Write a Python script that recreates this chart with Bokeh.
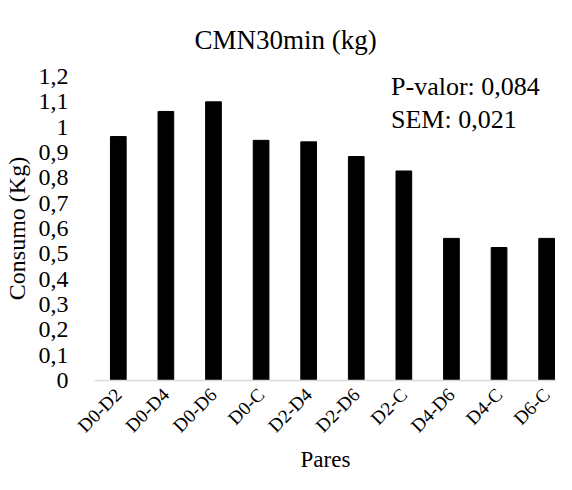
from bokeh.plotting import figure
from bokeh.models import ColumnDataSource, FixedTicker, CustomJSTickFormatter, Label, Title, Range1d
from bokeh.embed import file_html
from bokeh.resources import INLINE
import math

pares = ["D0-D2", "D0-D4", "D0-D6", "D0-C", "D2-D4", "D2-D6", "D2-C", "D4-D6", "D4-C", "D6-C"]
consumo = [0.963, 1.062, 1.100, 0.948, 0.942, 0.884, 0.827, 0.561, 0.525, 0.561]
y_ticks = [0, 0.1, 0.2, 0.3, 0.4, 0.5, 0.6, 0.7, 0.8, 0.9, 1.0, 1.1, 1.2]
title_text = "CMN30min (kg)"
stats_text = ["P-valor: 0,084", "SEM: 0,021"]
stats_y = [1.161, 1.029]

FONT = "Liberation Serif"

xpos = [i + 0.5 for i in range(len(pares))]
source = ColumnDataSource(data=dict(x=xpos, pares=pares, consumo=consumo))

p = figure(x_range=Range1d(0, 9.707), y_range=Range1d(0, 1.2), width=556, height=474,
           output_backend="svg", toolbar_location=None,
           min_border_left=92, min_border_right=0, min_border_top=75, min_border_bottom=87)

p.vbar(x="x", top="consumo", width=0.33, source=source, color="black")

p.add_layout(Title(text=title_text, align="left", offset=100, standoff=44,
                   text_font=FONT, text_font_size="27px",
                   text_font_style="normal", text_color="#000000"), "above")

p.xgrid.grid_line_color = None
p.ygrid.grid_line_color = None
p.outline_line_color = None
p.background_fill_color = "white"
p.border_fill_color = "white"

p.yaxis.ticker = FixedTicker(ticks=y_ticks)
p.yaxis.formatter = CustomJSTickFormatter(code="var s = (Math.round(tick*10)/10).toString(); return s.replace('.', ',');")
p.yaxis.axis_line_color = None
p.yaxis.major_tick_line_color = None
p.yaxis.minor_tick_line_color = None
p.yaxis.major_label_text_font = FONT
p.yaxis.major_label_text_font_size = "24px"
p.yaxis.major_label_text_color = "black"
p.yaxis.major_label_standoff = 20
p.yaxis.axis_label = "Consumo (Kg)"
p.yaxis.axis_label_text_font = FONT
p.yaxis.axis_label_text_font_size = "24px"
p.yaxis.axis_label_text_font_style = "normal"
p.yaxis.axis_label_text_color = "black"
p.yaxis.axis_label_standoff = 6

p.xaxis.ticker = FixedTicker(ticks=xpos)
p.xaxis.major_label_overrides = {x: name for x, name in zip(xpos, pares)}
p.xaxis.axis_line_color = "#d9d9d9"
p.xaxis.axis_line_width = 1.5
p.xaxis.major_tick_line_color = None
p.xaxis.minor_tick_line_color = None
p.xaxis.major_label_orientation = math.pi / 4
p.xaxis.major_label_text_font = FONT
p.xaxis.major_label_text_font_size = "19px"
p.xaxis.major_label_text_color = "black"
p.xaxis.major_label_standoff = 5
p.xaxis.axis_label = "Pares"
p.xaxis.axis_label_text_font = FONT
p.xaxis.axis_label_text_font_size = "23px"
p.xaxis.axis_label_text_font_style = "normal"
p.xaxis.axis_label_text_color = "black"
p.xaxis.axis_label_standoff = 0

for txt, yv in zip(stats_text, stats_y):
    p.add_layout(Label(x=6.23, y=yv, text=txt, text_font=FONT, text_font_size="26px",
                       text_color="black", text_baseline="middle", text_align="left"))

open("out.html", "w").write(file_html(p, INLINE))
